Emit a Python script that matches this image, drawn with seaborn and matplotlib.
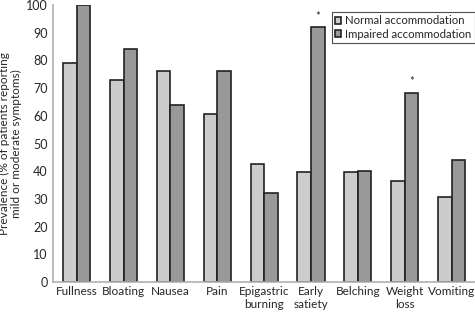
import pandas as pd
import seaborn as sns
import matplotlib.pyplot as plt

symptoms = ['Fullness', 'Bloating', 'Nausea', 'Pain', 'Epigastric\nburning',
            'Early\nsatiety', 'Belching', 'Weight\nloss', 'Vomiting']
normal = [79, 73, 76, 60.6, 42.6, 39.6, 39.6, 36.6, 30.6]
impaired = [100, 84, 64, 76.2, 32, 92, 40.2, 68.3, 44.2]
groups = ['Normal accommodation', 'Impaired accommodation']
starred = ['Early\nsatiety', 'Weight\nloss']

df = pd.DataFrame({
    'symptom': symptoms * 2,
    'value': normal + impaired,
    'group': [groups[0]] * len(symptoms) + [groups[1]] * len(symptoms),
})

sns.set_style('white')
plt.rcParams['font.family'] = ['Lato', 'DejaVu Sans']

fig = plt.figure(figsize=(4.75, 3.12), dpi=100)
ax = fig.add_axes([0.112, 0.096, 0.888, 0.888])

sns.barplot(data=df, x='symptom', y='value', hue='group', order=symptoms,
            hue_order=groups, palette=['#cccccc', '#999999'], width=0.58,
            edgecolor='#222222', linewidth=1.2, saturation=1, ax=ax)

# asterisks over the significant impaired bars
for s in starred:
    i = symptoms.index(s)
    ax.text(i + 0.145, impaired[i] + 2, '*', ha='center', va='bottom', fontsize=8)

ax.set_xlim(-0.5, 8.5)
ax.set_ylim(0, 100)
ax.set_yticks(range(0, 101, 10))
ax.set_xlabel('')
ax.set_ylabel('Prevalence (% of patients reporting\nmild or moderate symptoms)',
              fontsize=8.5, linespacing=1.1, labelpad=3)
ax.tick_params(axis='y', direction='in', length=8, color='#b0b0b0', labelsize=9, pad=4)
ax.tick_params(axis='x', length=0, labelsize=8.5, pad=3)
sns.despine(ax=ax)
for sp in ['left', 'bottom']:
    ax.spines[sp].set_color('#b0b0b0')
    ax.spines[sp].set_linewidth(1.2)

leg = ax.legend(loc='upper right', bbox_to_anchor=(1.0, 0.975), borderaxespad=0,
                fontsize=8.2, frameon=True, fancybox=False, handlelength=0.55,
                handleheight=0.55, handletextpad=0.35, borderpad=0.3, labelspacing=0.2)
leg.get_frame().set_edgecolor('#222222')
leg.get_frame().set_linewidth(0.8)

fig.savefig('out.png', dpi=100)
